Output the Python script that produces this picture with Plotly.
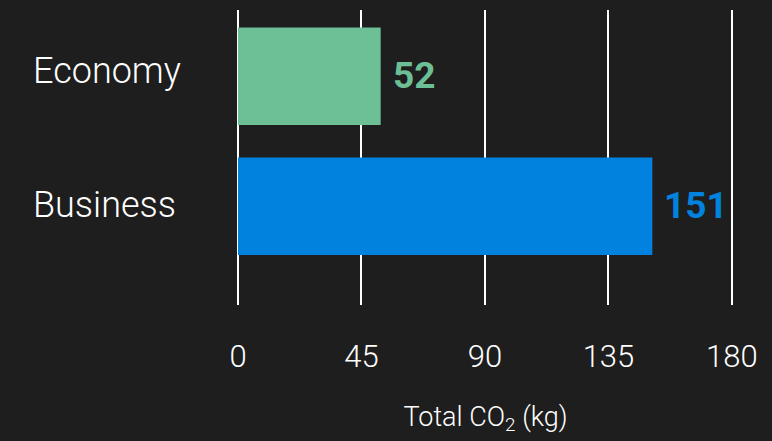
import plotly.graph_objects as go

# Emissions per cabin class
classes = ["Economy", "Business"]
co2_kg = [52, 151]
bar_colors = ["#6dbf95", "#0082de"]
x_ticks = [0, 45, 90, 135, 180]

BG = "#1e1e1e"
FONT = "Roboto"
PLOT_LEFT = 238
PLOT_WIDTH = 772 - PLOT_LEFT - 39

fig = go.Figure()
fig.add_trace(go.Bar(
    x=co2_kg,
    y=classes,
    orientation="h",
    marker=dict(color=bar_colors, line=dict(width=0)),
    width=0.75,
    hoverinfo="skip",
))

# Value labels to the right of each bar
for cls, val, col in zip(classes, co2_kg, bar_colors):
    fig.add_annotation(
        x=val, y=cls, text=f"<b>{val}</b>", showarrow=False,
        xanchor="left", yanchor="middle", xshift=10, yshift=1,
        font=dict(family=FONT, size=37, color=col),
    )

# Left-aligned category labels (labels with descenders sit a little higher)
for cls in classes:
    lift = 5 if any(c in cls for c in "gjpqy") else 1
    fig.add_annotation(
        xref="paper", x=(31 - PLOT_LEFT) / PLOT_WIDTH, y=cls,
        text=cls, showarrow=False, xanchor="left", yanchor="middle",
        yshift=lift,
        font=dict(family=FONT, size=36, color="#ffffff", weight=300),
    )

fig.update_layout(
    width=772, height=441,
    paper_bgcolor=BG, plot_bgcolor=BG,
    margin=dict(l=PLOT_LEFT, r=39, t=10, b=136),
    showlegend=False,
    xaxis=dict(
        range=[0, 180.4],
        tickvals=x_ticks,
        ticktext=[str(t) for t in x_ticks],
        showgrid=True, gridcolor="#ffffff", gridwidth=2,
        zeroline=True, zerolinecolor="#ffffff", zerolinewidth=2,
        showline=False,
        ticks="outside", ticklen=24, tickcolor=BG,
        tickfont=dict(family=FONT, size=31, color="#ffffff", weight=300),
        title=dict(text="Total CO<sub>2</sub> (kg)", standoff=32,
                   font=dict(family=FONT, size=27, color="#ffffff", weight=300)),
        fixedrange=True,
    ),
    yaxis=dict(
        categoryorder="array", categoryarray=classes,
        range=[1.76, -0.51],
        showgrid=False, zeroline=False, showline=False,
        showticklabels=False,
        fixedrange=True,
    ),
)

fig.write_html("out.html")
